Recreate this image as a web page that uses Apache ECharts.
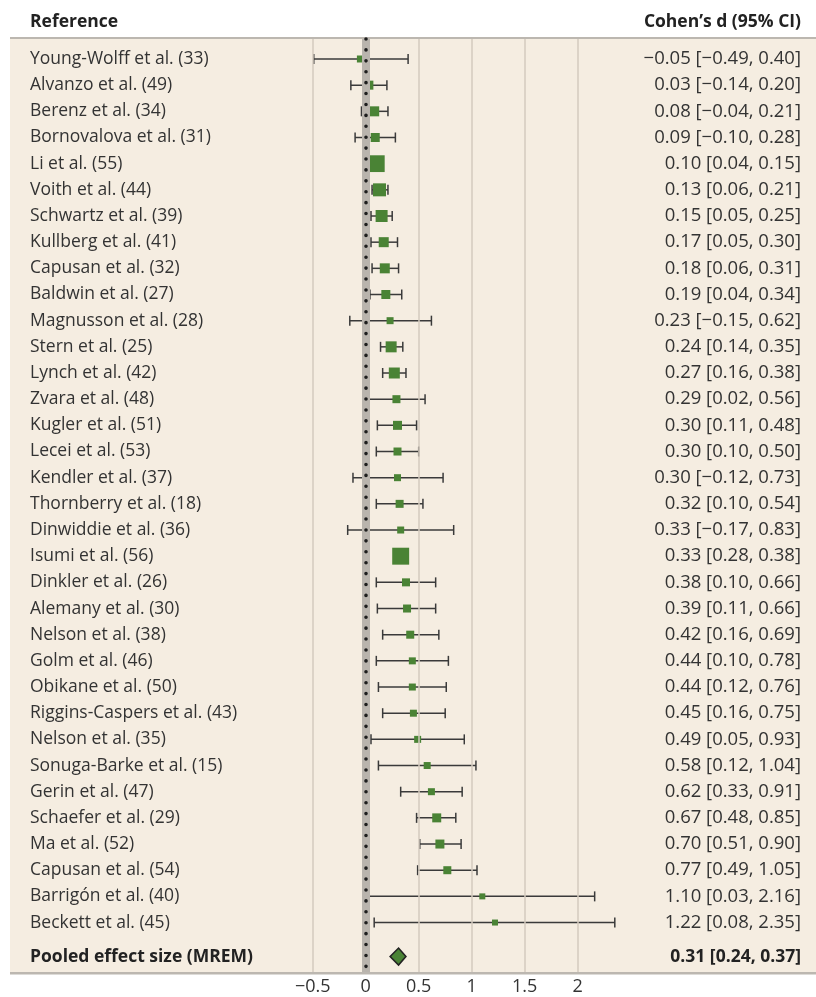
<!DOCTYPE html>
<html>
<head>
<meta charset="utf-8">
<script src="https://cdn.jsdelivr.net/npm/echarts@6/dist/echarts.min.js"></script>
<style>
  html, body { margin: 0; padding: 0; background: #ffffff; }
  #chart { width: 816px; height: 997px; }
</style>
</head>
<body>
<div id="chart"></div>
<script>
// ---------------- data ----------------
const studies = [
  'Young-Wolff et al. (33)', 'Alvanzo et al. (49)', 'Berenz et al. (34)', 'Bornovalova et al. (31)',
  'Li et al. (55)', 'Voith et al. (44)', 'Schwartz et al. (39)', 'Kullberg et al. (41)',
  'Capusan et al. (32)', 'Baldwin et al. (27)', 'Magnusson et al. (28)', 'Stern et al. (25)',
  'Lynch et al. (42)', 'Zvara et al. (48)', 'Kugler et al. (51)', 'Lecei et al. (53)',
  'Kendler et al. (37)', 'Thornberry et al. (18)', 'Dinwiddie et al. (36)', 'Isumi et al. (56)',
  'Dinkler et al. (26)', 'Alemany et al. (30)', 'Nelson et al. (38)', 'Golm et al. (46)',
  'Obikane et al. (50)', 'Riggins-Caspers et al. (43)', 'Nelson et al. (35)', 'Sonuga-Barke et al. (15)',
  'Gerin et al. (47)', 'Schaefer et al. (29)', 'Ma et al. (52)', 'Capusan et al. (54)',
  'Barrigón et al. (40)', 'Beckett et al. (45)'
];
const effect = [-0.05, 0.03, 0.08, 0.09, 0.10, 0.13, 0.15, 0.17, 0.18, 0.19, 0.23, 0.24, 0.27, 0.29, 0.30, 0.30, 0.30,
  0.32, 0.33, 0.33, 0.38, 0.39, 0.42, 0.44, 0.44, 0.45, 0.49, 0.58, 0.62, 0.67, 0.70, 0.77, 1.10, 1.22];
const ciLow = [-0.49, -0.14, -0.04, -0.10, 0.04, 0.06, 0.05, 0.05, 0.06, 0.04, -0.15, 0.14, 0.16, 0.02, 0.11, 0.10, -0.12,
  0.10, -0.17, 0.28, 0.10, 0.11, 0.16, 0.10, 0.12, 0.16, 0.05, 0.12, 0.33, 0.48, 0.51, 0.49, 0.03, 0.08];
const ciHigh = [0.40, 0.20, 0.21, 0.28, 0.15, 0.21, 0.25, 0.30, 0.31, 0.34, 0.62, 0.35, 0.38, 0.56, 0.48, 0.50, 0.73,
  0.54, 0.83, 0.38, 0.66, 0.66, 0.69, 0.78, 0.76, 0.75, 0.93, 1.04, 0.91, 0.85, 0.90, 1.05, 2.16, 2.35];
// relative study weights (read from square areas)
const weights = [0.87, 1.44, 1.78, 1.44, 5.0, 3.0, 2.56, 1.78, 1.78, 1.44, 0.87, 2.15, 2.15, 1.14, 1.44, 1.14, 0.87,
  1.14, 0.87, 5.1, 1.14, 1.14, 1.14, 0.87, 0.87, 0.87, 0.87, 0.87, 0.87, 1.44, 1.44, 1.14, 0.64, 0.64];
const pooledLabel = 'Pooled effect size (MREM)';
const pooledValues = [0.31, 0.24, 0.37]; // d, low, high
const xTicks = [-0.5, 0, 0.5, 1, 1.5, 2];
const gridValues = [-0.5, 0.5, 1, 1.5, 2];
const headerLeft = 'Reference';
const headerRight = 'Cohen\u2019s d (95% CI)';

// ---------------- layout / style ----------------
const FONT = '"Open Sans", "Noto Sans", sans-serif';
const TEXT_COLOR = '#333333';
const GREEN = '#4a8335';
const LABEL_X = 30;
const VALUE_X = 801;
const LABEL_SIZE = 17.5;
const VALUE_SIZE = 18.5;
const POOLED_GAP = 1.30;
const SQUARE_K = 7.5;

const fmtNum = v => v.toFixed(2).replace('-', '\u2212');
const fmtCI = (d, lo, hi) => fmtNum(d) + ' [' + fmtNum(lo) + ', ' + fmtNum(hi) + ']';

const rows = studies.map((n, i) => [i, effect[i], ciLow[i], ciHigh[i], weights[i], 0]);
rows.push([studies.length - 1 + POOLED_GAP, pooledValues[0], pooledValues[1], pooledValues[2], 0, 1]);

function renderItem(params, api) {
  const idx = params.dataIndex;
  const row = api.value(0);
  const d = api.value(1), lo = api.value(2), hi = api.value(3), w = api.value(4);
  const pooled = api.value(5) === 1;
  const pc = api.coord([d, row]);
  const pl = api.coord([lo, row]);
  const ph = api.coord([hi, row]);
  const y = pc[1];
  const children = [];
  const weight = pooled ? 'bold' : 'normal';
  const fill = pooled ? '#222222' : TEXT_COLOR;
  children.push({
    type: 'text', silent: true,
    style: { text: pooled ? pooledLabel : studies[idx], x: LABEL_X, y: y, fill: fill,
      fontSize: LABEL_SIZE, fontFamily: FONT, fontWeight: weight, align: 'left', verticalAlign: 'middle' }
  });
  children.push({
    type: 'text', silent: true,
    style: { text: fmtCI(d, lo, hi), x: VALUE_X, y: y, fill: fill,
      fontSize: pooled ? LABEL_SIZE : VALUE_SIZE, fontFamily: FONT, fontWeight: weight, align: 'right', verticalAlign: 'middle' }
  });
  if (pooled) {
    const h = 8.5;
    children.push({
      type: 'polygon',
      shape: { points: [[pl[0] - 1, y], [pc[0], y - h], [ph[0] + 1, y], [pc[0], y + h]] },
      style: { fill: GREEN, stroke: '#222222', lineWidth: 1.6 }
    });
  } else {
    const lineStyle = { stroke: '#3a3a3a', lineWidth: 1.5 };
    children.push({ type: 'line', shape: { x1: pl[0], y1: y, x2: ph[0], y2: y }, style: lineStyle });
    children.push({ type: 'line', shape: { x1: pl[0], y1: y - 5, x2: pl[0], y2: y + 5 }, style: lineStyle });
    children.push({ type: 'line', shape: { x1: ph[0], y1: y - 5, x2: ph[0], y2: y + 5 }, style: lineStyle });
    const s = SQUARE_K * Math.sqrt(w);
    children.push({ type: 'rect', shape: { x: pc[0] - s / 2, y: y - s / 2, width: s, height: s }, style: { fill: GREEN } });
  }
  return { type: 'group', children: children };
}

const chart = echarts.init(document.getElementById('chart'), null, { renderer: 'canvas' });
chart.setOption({
  animation: false,
  backgroundColor: '#ffffff',
  graphic: [
    { type: 'rect', z: -10, silent: true, shape: { x: 10, y: 38, width: 806, height: 935 }, style: { fill: '#f5ede1' } },
    { type: 'rect', z: -9, silent: true, shape: { x: 10, y: 37, width: 806, height: 2 }, style: { fill: '#bcb7b0' } },
    { type: 'rect', z: -9, silent: true, shape: { x: 10, y: 972, width: 806, height: 2.5 }, style: { fill: '#bcb7b0' } },
    { type: 'text', silent: true, style: { text: headerLeft, x: LABEL_X, y: 22.5, fill: '#222222', fontSize: LABEL_SIZE,
      fontWeight: 'bold', fontFamily: FONT, align: 'left', verticalAlign: 'middle' } },
    { type: 'text', silent: true, style: { text: headerRight, x: VALUE_X, y: 22.5, fill: '#222222', fontSize: LABEL_SIZE,
      fontWeight: 'bold', fontFamily: FONT, align: 'right', verticalAlign: 'middle' } }
  ],
  grid: { left: 259.7, right: 185.3, top: 39, bottom: 25, containLabel: false },
  xAxis: {
    type: 'value', min: -1, max: 2.5, interval: 0.5,
    axisLine: { show: false }, axisTick: { show: false }, splitLine: { show: false },
    axisLabel: {
      margin: 6, fontSize: 18, fontFamily: FONT, color: TEXT_COLOR,
      showMinLabel: true, showMaxLabel: true,
      formatter: v => xTicks.indexOf(v) >= 0 ? String(v).replace('-', '\u2212') : ''
    }
  },
  yAxis: { type: 'value', inverse: true, min: -0.764, max: 34.89, show: false },
  series: [
    {
      type: 'line', data: [], z: 1, silent: true,
      markLine: {
        silent: true, symbol: 'none', label: { show: false }, animation: false,
        data: gridValues.map(v => ({ xAxis: v, lineStyle: { color: '#d3cabe', width: 1.5, type: 'solid' } }))
          .concat([{ xAxis: 0, lineStyle: { color: '#b9b4ad', width: 8, type: 'solid' } }])
      }
    },
    {
      type: 'custom', z: 3, clip: false,
      renderItem: renderItem,
      encode: { x: [1, 2, 3], y: 0 },
      data: rows
    },
    {
      type: 'line', data: [], z: 5, silent: true,
      markLine: {
        silent: true, symbol: 'none', label: { show: false }, animation: false,
        data: [{ xAxis: 0, lineStyle: { color: '#1e1e1e', width: 3.6, type: [0.01, 10.9], cap: 'round' } }]
      }
    }
  ]
});
</script>
</body>
</html>
